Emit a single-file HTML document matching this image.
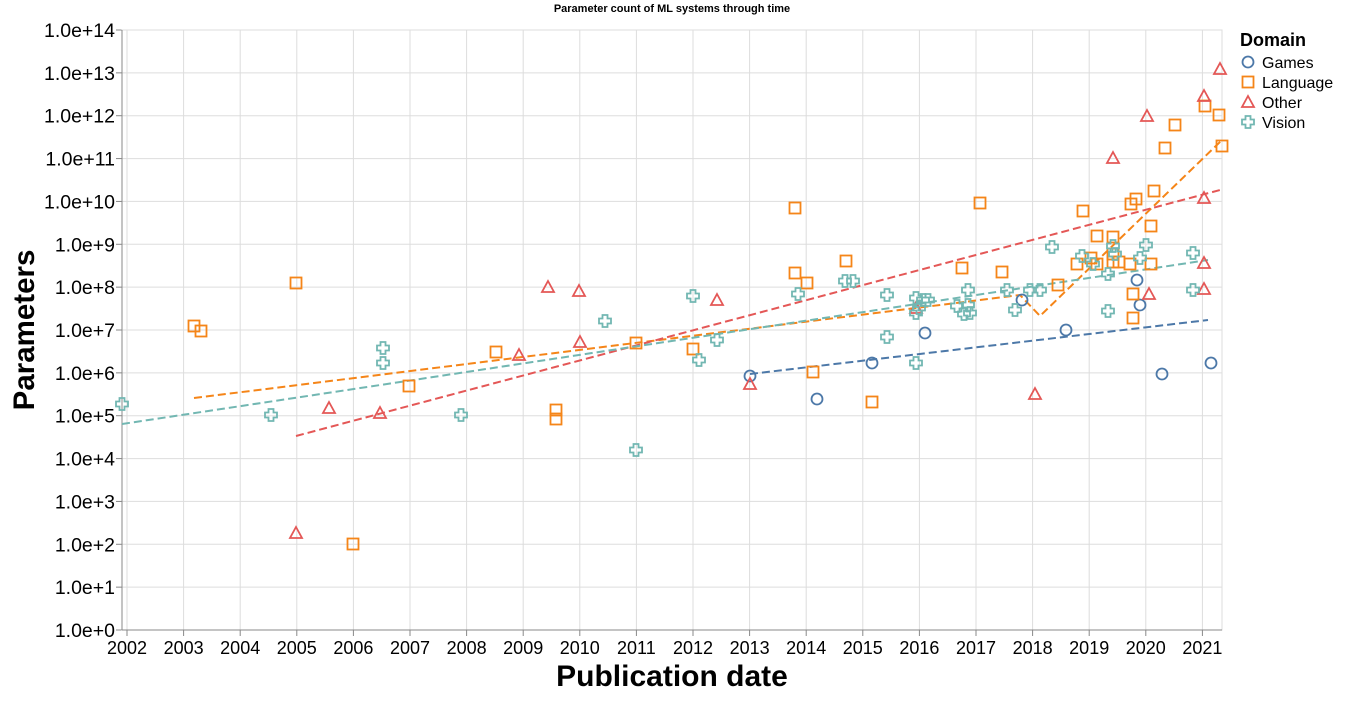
<!DOCTYPE html>
<html><head><meta charset="utf-8"><style>
html,body{margin:0;padding:0;background:#fff;}
svg{display:block;font-family:"Liberation Sans",sans-serif;}
</style></head><body>
<svg id="s" width="1354" height="701" xmlns="http://www.w3.org/2000/svg">
<text x="672" y="12" font-size="11" font-weight="bold" text-anchor="middle">Parameter count of ML systems through time</text>
<g id="grid"></g>
<g id="lines" fill="none" stroke-width="2" stroke-dasharray="8,4">
<polyline points="750,374 1208,320" stroke="#4c78a8"/>
<polyline points="194,398 1020,295 1040,316 1222,140" stroke="#f58518"/>
<polyline points="296,436 1220,190" stroke="#e45756"/>
<polyline points="122,424 1208,260" stroke="#72b7b2"/>
</g>
<g id="pts" fill="none" stroke-width="1.8"></g>
<text transform="translate(34,330) rotate(-90)" font-size="29.5" font-weight="bold" text-anchor="middle">Parameters</text>
<text x="672" y="686" font-size="30" font-weight="bold" text-anchor="middle">Publication date</text>
<text x="1240" y="46" font-size="18" font-weight="bold">Domain</text>
<g font-size="16">
<circle cx="1248" cy="62" r="5.5" fill="none" stroke="#4c78a8" stroke-width="1.8"/><text x="1262" y="68">Games</text>
<rect x="1242.5" y="76.5" width="11" height="11" fill="none" stroke="#f58518" stroke-width="1.8"/><text x="1262" y="88">Language</text>
<polygon points="1248,96 1254,107 1242,107" fill="none" stroke="#e45756" stroke-width="1.8"/><text x="1262" y="108">Other</text>
<path d="M1245.5,117h5v3.5h3.5v5h-3.5v3.5h-5v-3.5h-3.5v-5h3.5z" transform="translate(0,-1)" fill="none" stroke="#72b7b2" stroke-width="1.8"/><text x="1262" y="128">Vision</text>
</g>
</svg>
<script>
var NS="http://www.w3.org/2000/svg",g=document.getElementById("grid"),p=document.getElementById("pts");
function el(par,t,a,txt){var e=document.createElementNS(NS,t);for(var k in a)e.setAttribute(k,a[k]);if(txt)e.textContent=txt;par.appendChild(e);return e;}
for(var i=0;i<=14;i++){var y=630-i*600/14;el(g,"line",{x1:122,x2:1222,y1:y,y2:y,stroke:"#ddd"});el(g,"line",{x1:116,x2:122,y1:y,y2:y,stroke:"#888"});
el(g,"text",{x:115,y:y+7,"font-size":19.5,"text-anchor":"end"},"1.0e+"+i);}
for(var yr=2002;yr<=2021;yr++){var x=127+(yr-2002)*56.6;el(g,"line",{x1:x,x2:x,y1:30,y2:630,stroke:"#ddd"});el(g,"line",{x1:x,x2:x,y1:630,y2:636,stroke:"#888"});
el(g,"text",{x:x,y:654,"font-size":18,"text-anchor":"middle"},""+yr);}
el(g,"rect",{x:122,y:30,width:1100,height:600,fill:"none",stroke:"#ddd"});
el(g,"line",{x1:122,x2:1222,y1:630,y2:630,stroke:"#888"});el(g,"line",{x1:122,x2:122,y1:30,y2:630,stroke:"#888"});
var G=[[750,376],[817,399],[872,363],[925,333],[1022,300],[1066,330],[1137,280],[1140,305],[1162,374],[1211,363]];
var L=[[194,326],[201,331],[296,283],[353,544],[409,386],[496,352],[556,410],[556,419],[636,343],[693,349],[795,208],[795,273],[807,283],[813,372],[846,261],[872,402],[962,268],[980,203],[1002,272],[1058,285],[1083,211],[1077,264],[1091,258],[1097,236],[1097,264],[1113,237],[1113,254],[1113,262],[1119,262],[1130,264],[1131,204],[1136,199],[1133,294],[1133,318],[1154,191],[1151,226],[1151,264],[1165,148],[1175,125],[1205,106],[1219,115],[1222,146]];
var O=[[296,533],[329,408],[380,413],[519,355],[548,287],[579,291],[580,342],[717,300],[750,384],[916,308],[1035,394],[1113,158],[1147,116],[1149,294],[1204,96],[1204,198],[1204,263],[1204,289],[1220,69]];
var V=[[122,404],[271,415],[383,348],[383,363],[461,415],[605,321],[636,450],[693,296],[699,360],[717,340],[798,294],[845,281],[853,281],[887,295],[887,337],[916,298],[916,313],[916,363],[919,308],[923,300],[928,300],[957,306],[964,314],[968,290],[968,305],[970,313],[1007,290],[1015,310],[1030,290],[1040,290],[1052,247],[1082,256],[1093,264],[1108,274],[1113,246],[1115,254],[1108,311],[1140,258],[1146,245],[1193,253],[1193,290]];
G.forEach(function(a){el(p,"circle",{cx:a[0],cy:a[1],r:5.5,stroke:"#4c78a8"});});
L.forEach(function(a){el(p,"rect",{x:a[0]-5.5,y:a[1]-5.5,width:11,height:11,stroke:"#f58518"});});
O.forEach(function(a){el(p,"polygon",{points:(a[0])+","+(a[1]-6)+" "+(a[0]+6)+","+(a[1]+5)+" "+(a[0]-6)+","+(a[1]+5),stroke:"#e45756"});});
V.forEach(function(a){var x=a[0],y=a[1];el(p,"path",{d:"M"+(x-2.5)+","+(y-6)+"h5v3.5h3.5v5h-3.5v3.5h-5v-3.5h-3.5v-5h3.5z",stroke:"#72b7b2"});});
</script>
</body></html>
